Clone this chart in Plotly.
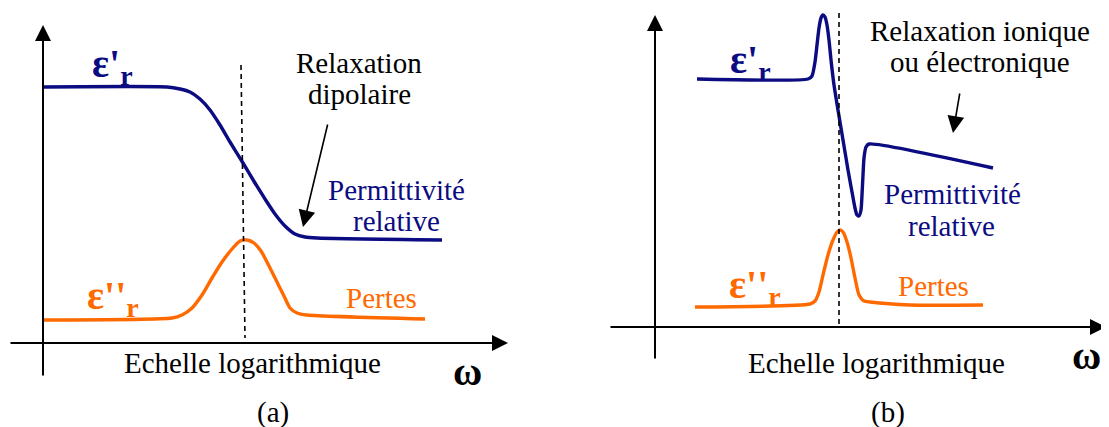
import plotly.graph_objects as go

W, H = 1109, 427
PAGE_OFFSET = 8  # default body margin of the html page
NAVY = "#0b0b82"
ORANGE = "#ff6a00"
FONT = "Liberation Serif"
TXT = 29

# ---- Panel (a) : dipolar relaxation (image-pixel coordinates) ----
a_eps1_x = [43, 167, 180, 190, 200, 210, 220, 230, 243, 255, 265, 275, 285, 295, 305, 317, 442]
a_eps1_y = [87, 87, 89, 92, 99, 110, 125, 142, 163, 183, 199, 214, 226, 234, 237, 238, 240]
a_eps2_x = [43, 172, 182, 192, 202, 212, 222, 232, 240, 247, 254, 261, 268, 276, 284, 290, 297, 307, 425]
a_eps2_y = [320, 318, 315, 308, 295, 278, 262, 249, 241, 240, 243, 251, 264, 280, 296, 308, 313, 315, 319]
a_dash_x = [241, 245]
a_dash_y = [65, 338]

# ---- Panel (b) : ionic / electronic relaxation ----
b_eps1_x = [697, 808, 812, 815, 817, 819, 821, 823, 825, 827, 829, 831, 834, 838, 843, 848, 852, 855,
            857, 859, 861, 862, 863, 864, 866, 869, 993]
b_eps1_y = [79, 79, 76, 62, 45, 28, 18, 15, 17, 25, 40, 60, 85, 110, 140, 170, 192, 208,
            215, 216, 210, 195, 175, 158, 147, 144, 168]
b_eps2_x = [695, 810, 815, 819, 823, 828, 833, 837, 840, 843, 847, 851, 855, 859, 864, 870, 910, 983]
b_eps2_y = [307, 304, 301, 292, 275, 255, 240, 232, 230, 232, 242, 258, 278, 295, 301, 302, 305, 305]
b_dash_x = [839, 839]
b_dash_y = [13, 325]

# ---- Arrows: (tail_x, tail_y, tip_x, tip_y) ----
axis_arrows = [
    (43, 377, 43, 25), (9, 343, 508, 343),
    (655, 360, 655, 15), (609, 327, 1106, 327),
]
pointer_arrows = [(328, 123, 303, 227), (960, 92, 953, 133)]

# ---- Texts: (text, x, y, color, size) ----
texts = [
    ("<b>ε'<sub>r</sub></b>", 112, 66, NAVY, 40),
    ("<b>ε''<sub>r</sub></b>", 113, 298, ORANGE, 40),
    ("Relaxation", 359, 63, "black", TXT),
    ("dipolaire", 359, 94, "black", TXT),
    ("Permittivité", 396, 190, NAVY, TXT),
    ("relative", 396, 221, NAVY, TXT),
    ("Pertes", 381, 298, ORANGE, TXT),
    ("Echelle logarithmique", 252, 363, "black", TXT),
    ("<b>ω</b>", 467, 371, "black", 40),
    ("(a)", 273, 412, "black", TXT),
    ("<b>ε'<sub>r</sub></b>", 750, 62, NAVY, 40),
    ("<b>ε''<sub>r</sub></b>", 755, 287, ORANGE, 40),
    ("Relaxation ionique", 980, 31, "black", TXT),
    ("ou électronique", 980, 62, "black", TXT),
    ("Permittivité", 952, 194, NAVY, TXT),
    ("relative", 951, 226, NAVY, TXT),
    ("Pertes", 933, 286, ORANGE, TXT),
    ("Echelle logarithmique", 876, 363, "black", TXT),
    ("<b>ω</b>", 1086, 355, "black", 40),
    ("(b)", 888, 412, "black", TXT),
]

fig = go.Figure()

for xs, ys, col in [(a_eps1_x, a_eps1_y, NAVY), (a_eps2_x, a_eps2_y, ORANGE),
                    (b_eps1_x, b_eps1_y, NAVY), (b_eps2_x, b_eps2_y, ORANGE)]:
    fig.add_trace(go.Scatter(x=xs, y=ys, mode="lines",
                             line=dict(color=col, width=3.4, shape="spline", smoothing=0.6),
                             hoverinfo="skip", showlegend=False))

for xs, ys in [(a_dash_x, a_dash_y), (b_dash_x, b_dash_y)]:
    fig.add_trace(go.Scatter(x=xs, y=ys, mode="lines",
                             line=dict(color="black", width=1.6, dash="5px,4px"),
                             hoverinfo="skip", showlegend=False))

for tx, ty, hx, hy in axis_arrows:
    fig.add_annotation(x=hx, y=hy, ax=tx, ay=ty, xref="x", yref="y", axref="x", ayref="y",
                       text="", showarrow=True, arrowhead=2, arrowwidth=2, arrowsize=1.6,
                       arrowcolor="black", standoff=0)

for tx, ty, hx, hy in pointer_arrows:
    fig.add_annotation(x=hx, y=hy, ax=tx, ay=ty, xref="x", yref="y", axref="x", ayref="y",
                       text="", showarrow=True, arrowhead=2, arrowwidth=1.6, arrowsize=2.1,
                       arrowcolor="black", standoff=0)

for t, x, y, col, sz in texts:
    fig.add_annotation(x=x, y=y, xref="x", yref="y", text=t, showarrow=False,
                       font=dict(family=FONT, size=sz, color=col),
                       xanchor="center", yanchor="middle")

fig.update_layout(
    width=W - PAGE_OFFSET, height=H - PAGE_OFFSET, margin=dict(l=0, r=0, t=0, b=0),
    paper_bgcolor="white", plot_bgcolor="white",
    xaxis=dict(range=[PAGE_OFFSET, W], visible=False, fixedrange=True),
    yaxis=dict(range=[H, PAGE_OFFSET], visible=False, fixedrange=True),
)

fig.write_html("out.html")
